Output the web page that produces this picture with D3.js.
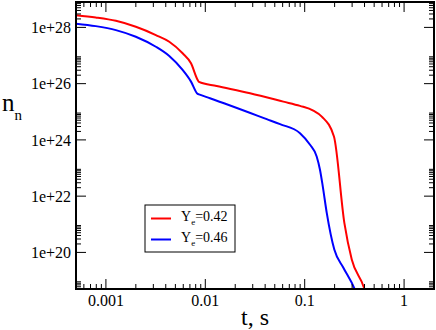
<!DOCTYPE html>
<html>
<head>
<meta charset="utf-8">
<script src="https://cdn.jsdelivr.net/npm/d3@7"></script>
<style>
  body { margin: 0; background: #fff; }
</style>
</head>
<body>
<svg id="chart" width="436" height="330"></svg>
<script>
// data (t in s, n_n)
const tRed = [0.0005, 0.00079, 0.00126, 0.002, 0.00318, 0.00434, 0.00591, 0.00718, 0.00838, 0.00863,
    0.013, 0.0282, 0.061, 0.0897, 0.122, 0.1486, 0.197, 0.2506, 0.2975, 0.395, 0.42]
const nRed = [2.73e28, 2.26e28, 1.71e28, 1.05e28, 5.33e27, 3.08e27, 1.20e27, 5.29e26, 1.35e26, 1.15e26,
    8.29e25, 4.57e25, 2.30e25, 1.62e25, 1.10e25, 6.76e24, 1.32e24, 1.12e21, 5.6e19, 5.56e18, 2.6e18]

const tBlue = [0.0005, 0.00079, 0.00126, 0.002, 0.00318, 0.00434, 0.00591, 0.00718, 0.00838, 0.00863,
    0.01114, 0.0415, 0.0565, 0.0897, 0.1132, 0.132, 0.1425, 0.152, 0.1667, 0.1986, 0.245, 0.316, 0.34]
const nBlue = [1.36e28, 1.11e28, 8.02e27, 4.65e27, 2.05e27, 9.6e26, 3.06e26, 1.18e26, 4.31e25, 4.14e25,
    3.03e25, 5.47e24, 3.63e24, 1.74e24, 6.70e23, 2.58e23, 8.7e22, 2.23e22, 2.54e21, 1.27e20, 2.85e19, 5.25e18, 2.7e18]

const seriesNames = ["0.42", "0.46"]
const seriesColors = ["#ff0000", "#0000ff"]

const xTickValues = [0.001, 0.01, 0.1, 1]
const xTickLabels = ["0.001", "0.01", "0.1", "1"]
const yTickValues = [1e20, 1e22, 1e24, 1e26, 1e28]
const yTickLabels = ["1e+20", "1e+22", "1e+24", "1e+26", "1e+28"]

const FONT = '"Liberation Serif", "Times New Roman", serif'
const svg = d3.select("#chart")
const plotL = 76, plotR = 434, plotT = 2, plotB = 289

const x = d3.scaleLog().domain([0.0005, 2]).range([plotL, plotR])
const y = d3.scaleLog().domain([5e18, 8e28]).range([plotB, plotT])

// minor ticks
const xMinor = []
for (let e = -4; e <= 0; e++) for (let k = 2; k <= 9; k++) {
    const v = k * Math.pow(10, e)
    if (v > 0.0005 && v < 2) xMinor.push(v)
}
const yMinor = []
for (let e = 18; e <= 28; e += 2) for (let k = 2; k <= 9; k++) {
    const v = k * Math.pow(10, e)
    if (v > 5e18 && v < 8e28) yMinor.push(v)
}

svg.append("clipPath").attr("id", "clip")
    .append("rect").attr("x", plotL).attr("y", plotT).attr("width", plotR - plotL).attr("height", plotB - plotT)

const line = d3.line().x(d => x(d[0])).y(d => y(d[1])).curve(d3.curveMonotoneX)

const series = [
    d3.zip(tRed, nRed),
    d3.zip(tBlue, nBlue)
]

svg.append("g").attr("clip-path", "url(#clip)")
    .selectAll("path")
    .data(series)
    .join("path")
        .attr("d", line)
        .attr("fill", "none")
        .attr("stroke", (d, i) => seriesColors[i])
        .attr("stroke-width", 2)

// ticks, all pointing inside, on all four sides
const ticks = svg.append("g").attr("stroke", "#000").attr("stroke-width", 1)
const major = 10, minor = 5
xTickValues.forEach(v => {
    ticks.append("line").attr("x1", x(v)).attr("x2", x(v)).attr("y1", plotB).attr("y2", plotB - major)
    ticks.append("line").attr("x1", x(v)).attr("x2", x(v)).attr("y1", plotT).attr("y2", plotT + major)
})
xMinor.forEach(v => {
    ticks.append("line").attr("x1", x(v)).attr("x2", x(v)).attr("y1", plotB).attr("y2", plotB - minor)
    ticks.append("line").attr("x1", x(v)).attr("x2", x(v)).attr("y1", plotT).attr("y2", plotT + minor)
})
yTickValues.forEach(v => {
    ticks.append("line").attr("y1", y(v)).attr("y2", y(v)).attr("x1", plotL).attr("x2", plotL + major)
    ticks.append("line").attr("y1", y(v)).attr("y2", y(v)).attr("x1", plotR).attr("x2", plotR - major)
})
yMinor.forEach(v => {
    ticks.append("line").attr("y1", y(v)).attr("y2", y(v)).attr("x1", plotL).attr("x2", plotL + minor)
    ticks.append("line").attr("y1", y(v)).attr("y2", y(v)).attr("x1", plotR).attr("x2", plotR - minor)
})

// frame
svg.append("rect")
    .attr("x", plotL).attr("y", plotT)
    .attr("width", plotR - plotL).attr("height", plotB - plotT)
    .attr("fill", "none").attr("stroke", "#000").attr("stroke-width", 2)

// tick labels
svg.append("g").selectAll("text")
    .data(xTickValues)
    .join("text")
        .attr("x", d => x(d))
        .attr("y", 306)
        .attr("text-anchor", "middle")
        .style("font-family", FONT)
        .attr("font-size", 16)
        .text((d, i) => xTickLabels[i])

svg.append("g").selectAll("text")
    .data(yTickValues)
    .join("text")
        .attr("x", 71)
        .attr("y", d => y(d))
        .attr("dy", "0.35em")
        .attr("text-anchor", "end")
        .style("font-family", FONT)
        .attr("font-size", 16)
        .text((d, i) => yTickLabels[i])

// axis titles
svg.append("text")
    .attr("x", (plotL + plotR) / 2).attr("y", 325)
    .attr("text-anchor", "middle")
    .style("font-family", FONT)
    .attr("font-size", 24)
    .text("t, s")

const yTitle = svg.append("text").attr("x", 2).attr("y", 111)
    .style("font-family", FONT).attr("font-size", 25)
yTitle.append("tspan").text("n")
yTitle.append("tspan").attr("font-size", 15).attr("dy", 9).text("n")

// legend
const legend = svg.append("g")
legend.append("rect")
    .attr("x", 145).attr("y", 205).attr("width", 90).attr("height", 47)
    .attr("fill", "#fff").attr("stroke", "#000").attr("stroke-width", 1)

seriesNames.forEach((name, i) => {
    const ly = 218.5 + i * 21
    legend.append("line")
        .attr("x1", 151).attr("x2", 171).attr("y1", ly).attr("y2", ly)
        .attr("stroke", seriesColors[i]).attr("stroke-width", 2)
    const t = legend.append("text").attr("x", 181).attr("y", ly + 2.5)
        .style("font-family", FONT).attr("font-size", 14)
    t.append("tspan").text("Y")
    t.append("tspan").attr("font-size", 9).attr("dy", 4).text("e")
    t.append("tspan").attr("dy", -4).text("=" + name)
})
</script>
</body>
</html>
